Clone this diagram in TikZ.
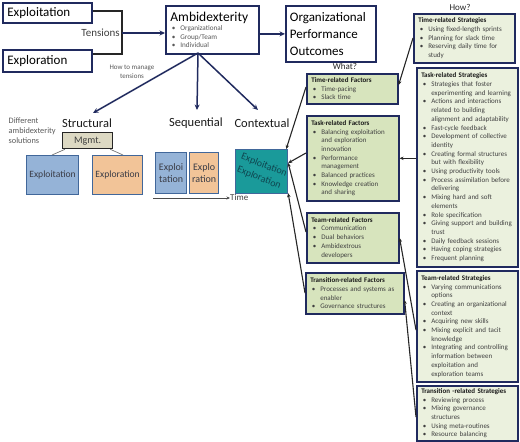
\documentclass[tikz,border=0pt]{standalone}
\usepackage{fontspec}
\setmainfont{Carlito}
\usetikzlibrary{arrows.meta}
\definecolor{navy}{RGB}{32,42,94}
\definecolor{factfill}{RGB}{215,228,189}
\definecolor{stratfill}{RGB}{235,241,222}
\definecolor{bluefill}{RGB}{149,179,215}
\definecolor{blueedge}{RGB}{65,103,154}
\definecolor{orangefill}{RGB}{242,196,152}
\definecolor{tealfill}{RGB}{26,154,154}
\definecolor{tealtext}{RGB}{15,70,80}
\definecolor{mgmtfill}{RGB}{221,217,195}
\definecolor{txt}{RGB}{64,64,64}
\definecolor{lbl}{RGB}{89,89,89}
\newcommand{\bitem}[1]{\par\hangindent=10pt\hangafter=1\noindent\hbox to 10pt{\hspace{1.5pt}\textbullet\hfil}#1}
\begin{document}
\begin{tikzpicture}[x=1pt,y=-1pt,
  topbox/.style={draw=navy, line width=1.8pt, fill=white, anchor=north west, align=left, inner xsep=4pt, inner ysep=1pt},
  factbox/.style={draw=navy, line width=1.6pt, fill=factfill, anchor=north west, inner xsep=4.5pt, inner ysep=1.5pt, align=left, font=\fontsize{7}{8.7}\selectfont, text=txt},
  stratbox/.style={factbox, fill=stratfill},
  solbox/.style={draw=blueedge, line width=1.2pt, anchor=north west, align=center, inner sep=0pt, text=txt!80!navy},
  navyarr/.style={draw=navy, line width=1.5pt, -{Stealth[length=5.5pt,width=5pt]}},
  blk/.style={draw=black!85, line width=1.1pt, -{Stealth[length=4pt,width=3.5pt]}},
  plain/.style={draw=black!85, line width=1.2pt},
  thin/.style={draw=black!55, line width=0.7pt}
]
\useasboundingbox (0,0) rectangle (520,442);

% top row
\node[topbox, minimum width=89pt, minimum height=20pt, text width=80pt, font=\fontsize{13}{15}\selectfont] (eploit) at (2,2) {Exploitation};
\node[topbox, minimum width=89pt, minimum height=22pt, text width=80pt, font=\fontsize{13}{15}\selectfont] (eplor) at (2,49) {Exploration};
\node[topbox, minimum width=93pt, minimum height=48pt, text width=84pt] (amb) at (165,5)
 {{\fontsize{13.5}{15}\selectfont Ambidexterity\par}\vspace{0.5pt}
  {\fontsize{7.2}{8.6}\selectfont\color{lbl}\bitem{Organizational}\bitem{Group/Team}\bitem{Individual}\par}};
\node[topbox, minimum width=90pt, minimum height=56pt, text width=82pt, font=\fontsize{13}{17}\selectfont] (org) at (285,5)
 {Organizational\\Performance\\Outcomes};

\coordinate (tj1) at (122,11);
\coordinate (tj2) at (122,54);
\coordinate (tmid) at (122,33);
\draw[plain] (eploit.east |- tj1) -- (tj1) -- (tj2) -- (eplor.east |- tj2);
\node[anchor=east, font=\fontsize{11}{13}\selectfont, text=txt, inner sep=1pt] (tens) at (121,33) {Tensions};
\draw[navyarr] (tmid) -- (amb.west |- tmid);
\draw[navyarr] (amb.east |- org.west) -- (org.west);

\node[align=center, font=\fontsize{7}{8.5}\selectfont, text=lbl] (howto) at (132,72) {How to manage\\tensions};

% arrows to solutions
\coordinate (ambs) at (198,53);
\coordinate (aS) at (93,113);
\coordinate (aQ) at (197,110);
\coordinate (aC) at (258,110);
\draw[navyarr] (ambs) -- (aS);
\draw[navyarr] (ambs) -- (aQ);
\draw[navyarr] (ambs) -- (aC);

\node[font=\fontsize{12.5}{14}\selectfont, text=black!90] (lS) at (87,123) {Structural};
\node[font=\fontsize{12.5}{14}\selectfont, text=black!90] (lQ) at (196,123) {Sequential};
\node[font=\fontsize{12.5}{14}\selectfont, text=black!90] (lC) at (262,123) {Contextual};
\node[anchor=north west, align=left, font=\fontsize{8.3}{10}\selectfont, text=lbl, inner sep=0pt] (diff) at (8.5,118) {Different\\ambidexterity\\solutions};

% structural
\node[draw=black!85, line width=1.3pt, fill=mgmtfill, anchor=north west, minimum width=50pt, minimum height=16pt, inner sep=0pt, font=\fontsize{10}{12}\selectfont, text=txt] (mgmt) at (62,132) {Mgmt.};
\node[solbox, fill=bluefill, minimum width=52pt, minimum height=39pt, font=\fontsize{9.6}{12}\selectfont] (sexpt) at (26,155) {Exploitation};
\node[solbox, fill=orangefill, minimum width=50pt, minimum height=39pt, font=\fontsize{9.6}{12}\selectfont] (sexpr) at (92,155) {Exploration};
\draw[thin] ([xshift=3pt]mgmt.south west) -- ([xshift=26pt]sexpt.north west);
\draw[thin] ([xshift=-3pt]mgmt.south east) -- ([xshift=31pt]sexpr.north west);

% sequential
\node[solbox, fill=bluefill, minimum width=31pt, minimum height=41pt, font=\fontsize{10}{12}\selectfont] (qexpt) at (155,152) {Exploi\\tation};
\node[solbox, fill=orangefill, minimum width=29pt, minimum height=41pt, font=\fontsize{10}{12}\selectfont] (qexpr) at (189,152) {Explo\\ration};
\node[anchor=west, font=\fontsize{9}{11}\selectfont, text=txt, inner sep=0pt] (time) at (230,197.5) {Time};
\coordinate (tstart) at (153,198);
\draw[draw=black!70, line width=0.8pt, -{Stealth[length=3.5pt,width=3pt]}] (tstart) -- (time.west |- tstart);

% contextual
\node[draw=blueedge, line width=1.2pt, fill=tealfill, anchor=north west, minimum width=52pt, minimum height=44pt, inner sep=0pt] (teal) at (235,149) {};
\node[rotate=-22, align=center, font=\fontsize{10}{13.5}\selectfont, text=tealtext, inner sep=0pt] (tealtxt) at (teal.center) {Exploitation\\Exploration};

% labels
\node[font=\fontsize{9}{11}\selectfont, text=black!85] (what) at (345,66) {What?};
\node[font=\fontsize{9}{11}\selectfont, text=black!85] (how) at (460,7) {How?};

% factors
\node[factbox, minimum width=91pt, minimum height=30pt, text width=82pt] (tf) at (306,73)
 {{\bfseries\color{black!90}Time-related Factors}\bitem{Time-pacing}\bitem{Slack time}\par};
\node[factbox, minimum width=92pt, minimum height=85pt, text width=83pt] (kf) at (306,115)
 {{\bfseries\color{black!90}Task-related Factors}\bitem{Balancing exploitation\newline and exploration\newline innovation}\bitem{Performance\newline management}\bitem{Balanced practices}\bitem{Knowledge creation\newline and sharing}\par};
\node[factbox, minimum width=92pt, minimum height=50pt, text width=83pt] (mf) at (306,212)
 {{\bfseries\color{black!90}Team-related Factors}\bitem{Communication}\bitem{Dual behaviors}\bitem{Ambidextrous\newline developers}\par};
\node[factbox, minimum width=98pt, minimum height=41pt, text width=89pt] (rf) at (305,272)
 {{\bfseries\color{black!90}Transition-related Factors}\bitem{Processes and systems as\newline enabler}\bitem{Governance structures}\par};

% strategies
\node[stratbox, minimum width=101pt, minimum height=49pt, text width=92pt] (ts) at (413,13)
 {{\bfseries\color{black!90}Time-related Strategies}\bitem{Using fixed-length sprints}\bitem{Planning for slack time}\bitem{Reserving daily time for\newline study}\par};
\node[stratbox, minimum width=101pt, minimum height=199pt, text width=92pt] (ks) at (416,67)
 {{\bfseries\color{black!90}Task-related Strategies}\bitem{Strategies that foster\newline experimenting and learning}\bitem{Actions and interactions\newline related to building\newline alignment and adaptability}\bitem{Fast-cycle feedback}\bitem{Development of collective\newline identity}\bitem{Creating formal structures\newline but with flexibility}\bitem{Using productivity tools}\bitem{Process assimilation before\newline delivering}\bitem{Mixing hard and soft\newline elements}\bitem{Role specification}\bitem{Giving support and building\newline trust}\bitem{Daily feedback sessions}\bitem{Having coping strategies}\bitem{Frequent planning}\par};
\node[stratbox, minimum width=101pt, minimum height=111pt, text width=92pt] (ms) at (416,270)
 {{\bfseries\color{black!90}Team-related Strategies}\bitem{Varying communications\newline options}\bitem{Creating an organizational\newline context}\bitem{Acquiring new skills}\bitem{Mixing explicit and tacit\newline knowledge}\bitem{Integrating and controlling\newline information between\newline exploitation and\newline exploration teams}\par};
\node[stratbox, minimum width=101pt, minimum height=55pt, text width=92pt] (rs) at (416,385)
 {{\bfseries\color{black!90}Transition -related Strategies}\bitem{Reviewing process}\bitem{Mixing governance\newline structures}\bitem{Using meta-routines}\bitem{Resource balancing}\par};

% strategies -> factors
\draw[blk] ([yshift=-25pt]ts.north west) -- ([yshift=-12pt]tf.north east);
\draw[blk] (ks.west |- kf.east) -- (kf.east);
\draw[blk] ([yshift=-60pt]ms.north west) -- ([yshift=-26pt]mf.north east);
\draw[blk] ([yshift=-32pt]rs.north west) -- ([yshift=-28pt]rf.north east);

% factors -> context
\draw[blk] ([yshift=-14pt]tf.north west) -- ([xshift=-2pt]teal.north east);
\draw[blk] ([yshift=-38pt]kf.north west) -- ([yshift=-14pt]teal.north east);
\draw[blk] ([yshift=-20pt]mf.north west) -- ([yshift=-14pt]teal.north east);
\draw[blk] ([yshift=-21pt]rf.north west) -- ([yshift=1pt]teal.south east);
\end{tikzpicture}
\end{document}
